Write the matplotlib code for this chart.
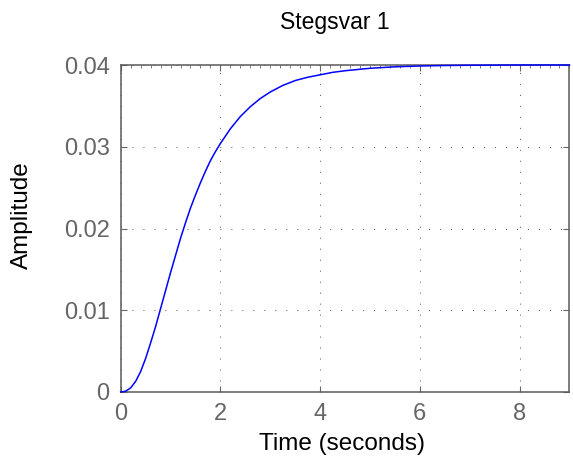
import matplotlib
matplotlib.use("Agg")
import matplotlib.pyplot as plt
from matplotlib.ticker import MultipleLocator

# step response samples
t = [0.0, 0.1, 0.2, 0.3, 0.4, 0.5, 0.6, 0.7, 0.8, 0.9, 1.0, 1.1, 1.2, 1.3,
     1.4, 1.5, 1.6, 1.7, 1.8, 1.9, 2.0, 2.2, 2.4, 2.6, 2.8, 3.0, 3.25, 3.5,
     3.75, 4.0, 4.25, 4.5, 4.75, 5.0, 5.5, 6.0, 6.5, 7.0, 8.0, 9.0]
y = [0.0, 0.0001, 0.0005, 0.0013, 0.0025, 0.0041, 0.0060, 0.0080, 0.0102,
     0.0124, 0.0146, 0.0167, 0.0188, 0.0207, 0.0225, 0.0241, 0.0256, 0.0270,
     0.0283, 0.0294, 0.0304, 0.0322, 0.0337, 0.0349, 0.0359, 0.0367, 0.0375,
     0.0381, 0.0385, 0.0388, 0.0391, 0.0393, 0.03945, 0.0396, 0.03978,
     0.03988, 0.03994, 0.03997, 0.0400, 0.0400]

xticks = [0, 2, 4, 6, 8]
yticks = [0, 0.01, 0.02, 0.03, 0.04]
yticklabels = ["0", "0.01", "0.02", "0.03", "0.04"]

plt.rcParams["font.family"] = ["Liberation Sans", "DejaVu Sans"]

GREY = "#666666"

fig = plt.figure(figsize=(5.73, 4.66), dpi=100)
ax = fig.add_axes([0.2106, 0.1588, 0.7832, 0.7017])

ax.plot(t, y, color="#0000ff", linewidth=1.1, clip_on=False, zorder=3,
        solid_joinstyle="round")

ax.set_xlim(0, 9)
ax.set_ylim(0, 0.04)
ax.set_xticks(xticks)
ax.set_yticks(yticks)
ax.set_yticklabels(yticklabels)
ax.xaxis.set_minor_locator(MultipleLocator(0.2))

ax.tick_params(which="major", direction="in", length=4, width=0.8,
               colors=GREY, labelsize=17, top=True, right=True)
ax.tick_params(which="minor", direction="in", length=2, width=0.6,
               colors=GREY, top=True, bottom=False)
ax.tick_params(axis="x", pad=8)
ax.tick_params(axis="y", pad=8)

for s in ax.spines.values():
    s.set_color("#5a5a5a")
    s.set_linewidth(1.1)

ax.grid(True, which="major", color="#555555", linestyle=(0, (1, 10.3)),
        linewidth=0.7)

fig.text(0.584, 0.9367, "Stegsvar 1", ha="center", va="baseline",
         fontsize=16.5, color="black")
fig.text(0.596, 0.0343, "Time (seconds)", ha="center", va="baseline",
         fontsize=17.5, color="black")
fig.text(0.038, 0.5386, "Amplitude", ha="center", va="center",
         rotation=90, fontsize=17.5, color="black")

fig.savefig("out.png", dpi=100)
